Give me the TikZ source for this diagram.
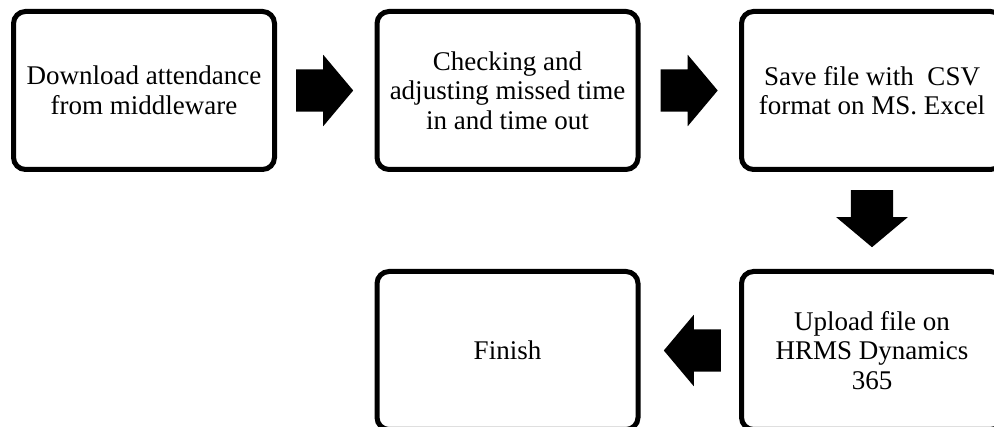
\documentclass[tikz,border=0pt]{standalone}
\usepackage{fontspec}
\setmainfont{Liberation Serif}
\usetikzlibrary{shapes.arrows,calc}

\begin{document}
\begin{tikzpicture}[x=1pt,y=-1pt,
  stepbox/.style={draw,line width=5pt,rounded corners=12pt,minimum width=261pt,minimum height=158pt,align=center,inner sep=0pt,font=\fontsize{27}{29.5}\selectfont},
  blockarrow/.style={single arrow,fill=black,anchor=tail,inner xsep=0pt,inner ysep=21pt,minimum height=57pt,single arrow head extend=14.5pt,single arrow tip angle=100}]
  \useasboundingbox (0,0) rectangle (994,427);
  \clip (0,0) rectangle (994,427);
  \node[stepbox] (dl) at (144,90.5) {Download attendance\\from middleware};
  \node[stepbox] (chk) at (507.5,90.5) {Checking and\\adjusting missed time\\in and time out};
  \node[stepbox] (save) at (872,90.5) {Save file with~ CSV\\format on MS. Excel};
  \node[stepbox] (upl) at (872,350.5) {Upload file on\\HRMS Dynamics\\365};
  \node[stepbox] (fin) at (507.5,350.5) {Finish};
  \node[blockarrow] (a1) at ($(dl.east)+(19,0)$) {};
  \node[blockarrow] (a2) at ($(chk.east)+(20,0)$) {};
  \node[blockarrow,shape border rotate=270,inner xsep=21pt,inner ysep=0pt] (a3) at ($(save.south)+(0,18)$) {};
  \node[blockarrow,shape border rotate=180] (a4) at ($(upl.west)+(-18,0)$) {};
\end{tikzpicture}
\end{document}
